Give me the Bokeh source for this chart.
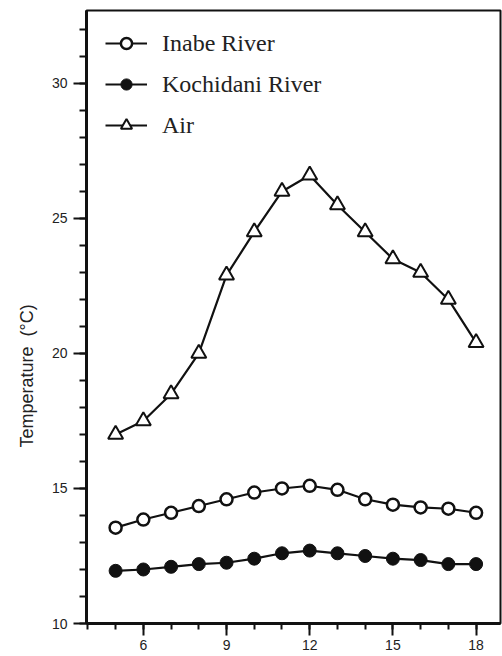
from bokeh.plotting import figure
from bokeh.models import (ColumnDataSource, Legend, LegendItem, Title,
                          SingleIntervalTicker, Range1d)
from bokeh.embed import file_html
from bokeh.resources import INLINE

hours = [5, 6, 7, 8, 9, 10, 11, 12, 13, 14, 15, 16, 17, 18]
inabe = [13.55, 13.85, 14.1, 14.35, 14.6, 14.85, 15.0, 15.1, 14.95, 14.6, 14.4, 14.3, 14.25, 14.1]
kochidani = [11.95, 12.0, 12.1, 12.2, 12.25, 12.4, 12.6, 12.7, 12.6, 12.5, 12.4, 12.35, 12.2, 12.2]
air = [17.0, 17.5, 18.5, 20.0, 22.9, 24.5, 26.0, 26.6, 25.5, 24.5, 23.5, 23.0, 22.0, 20.4]
series_names = ["Inabe River", "Kochidani River", "Air"]
y_title = "Temperature\u00a0\u00a0(°C)"
x_ticks_interval = 3
y_ticks_interval = 5

src = ColumnDataSource(dict(h=hours, inabe=inabe, koch=kochidani, air=air))

p = figure(width=502, height=656, output_backend="svg", toolbar_location=None,
           x_range=Range1d(3.95, 18.88), y_range=Range1d(10, 32.7),
           min_border_left=86, min_border_right=2, min_border_top=10, min_border_bottom=33)
p.background_fill_color = "white"
p.border_fill_color = "white"
p.outline_line_color = "#111111"
p.outline_line_width = 2
p.grid.visible = False

for ax in (p.xaxis[0], p.yaxis[0]):
    ax.axis_line_color = "#111111"
    ax.axis_line_width = 3
    ax.major_tick_line_color = "#111111"
    ax.major_tick_line_width = 2
    ax.minor_tick_line_color = "#111111"
    ax.minor_tick_line_width = 2
    ax.major_tick_in = 0
    ax.minor_tick_in = 0
    ax.major_label_text_font = "Liberation Sans"
    ax.major_label_text_font_size = "14px"
    ax.major_label_text_color = "#222222"

p.xaxis.ticker = SingleIntervalTicker(interval=x_ticks_interval, num_minor_ticks=3)
p.yaxis.ticker = SingleIntervalTicker(interval=y_ticks_interval, num_minor_ticks=5)
p.xaxis.major_tick_out = 12
p.xaxis.minor_tick_out = 6
p.yaxis.major_tick_out = 13
p.yaxis.minor_tick_out = 7
p.xaxis.major_label_standoff = 4
p.yaxis.major_label_standoff = 6

lw = 2.2
r1l = p.line("h", "inabe", source=src, line_color="#111111", line_width=lw)
r1m = p.scatter("h", "inabe", source=src, marker="circle", size=12,
                fill_color="white", line_color="#111111", line_width=2.5)
r2l = p.line("h", "koch", source=src, line_color="#111111", line_width=lw)
r2m = p.scatter("h", "koch", source=src, marker="circle", size=13,
                fill_color="#111111", line_color="#111111", line_width=1)
r3l = p.line("h", "air", source=src, line_color="#111111", line_width=lw)
r3m = p.scatter("h", "air", source=src, marker="triangle", size=15,
                fill_color="white", line_color="#111111", line_width=2)

legend = Legend(items=[
    LegendItem(label=series_names[0], renderers=[r1l, r1m]),
    LegendItem(label=series_names[1], renderers=[r2l, r2m]),
    LegendItem(label=series_names[2], renderers=[r3l, r3m]),
], location="top_left")
legend.border_line_color = None
legend.background_fill_alpha = 0
legend.label_text_font = "Liberation Serif"
legend.label_text_font_size = "24px"
legend.label_text_color = "#222222"
legend.glyph_width = 42
legend.glyph_height = 28
legend.label_height = 28
legend.spacing = 13
legend.label_standoff = 15
legend.margin = 19
legend.padding = 0
p.add_layout(legend)

ytitle = Title(text=y_title, align="left", offset=176, standoff=24,
               text_font="Liberation Sans", text_font_size="18px",
               text_font_style="normal", text_color="#222222")
p.add_layout(ytitle, "left")

open("out.html", "w").write(file_html(p, INLINE))
